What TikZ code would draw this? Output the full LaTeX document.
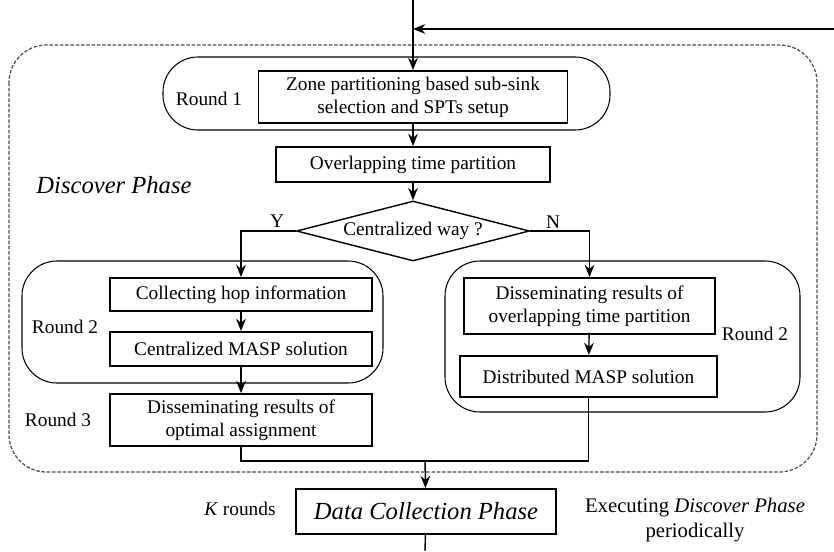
\documentclass[tikz,border=0pt]{standalone}
\usepackage{fontspec}
\setmainfont{Liberation Serif}
\usetikzlibrary{shapes.geometric}
\usetikzlibrary{positioning, calc, arrows.meta}

\begin{document}
\begin{tikzpicture}[x=0.02cm, y=-0.02cm, line width=0.8pt,
    every node/.style={font=\fontsize{11}{13}\selectfont},
    stepbox/.style={draw, line width=1pt, align=center, inner sep=0pt},
    roundbox/.style={draw, line width=0.6pt, rounded corners=0.7cm},
    arrow/.style={-{Stealth[length=7pt, width=5.5pt]}}]
                \useasboundingbox (0,0) rectangle (834,551);

                % phase frame and round groups
                \draw[black!70, line width=0.7pt, dash pattern=on 2pt off 1pt, rounded corners=0.75cm] (9,45) rectangle (817,472);
                \draw[roundbox] (163,57) rectangle (610,130);
                \draw[roundbox] (22,261) rectangle (383,383);
                \draw[roundbox] (445,261) rectangle (800,412);

                \node [stepbox, minimum width=6.18cm, minimum height=1.04cm] (zone) at (413,97) {Zone partitioning based sub-sink\\selection and SPTs setup};
                \node [stepbox, minimum width=5.48cm, minimum height=0.7cm] (overlap) at (413,164.5) {Overlapping time partition};
                \node [draw, diamond, aspect=3.9, inner sep=0pt, minimum width=4.66cm, minimum height=1.2cm] (way) at (413,231) {Centralized way ?};
                \node [stepbox, minimum width=5.24cm, minimum height=0.66cm] (hop) at (241,294.5) {Collecting hop information};
                \node [stepbox, minimum width=5.24cm, minimum height=0.68cm] (central) at (241,349) {Centralized MASP solution};
                \node [stepbox, minimum width=5.24cm, minimum height=1.04cm] (optimal) at (241,420) {Disseminating results of\\optimal assignment};
                \node [stepbox, minimum width=5.02cm, minimum height=1.12cm] (dissem) at (589.5,306) {Disseminating results of\\overlapping time partition};
                \node [stepbox, minimum width=5.14cm, minimum height=0.82cm] (distrib) at (588.5,376.5) {Distributed MASP solution};
                \node [stepbox, minimum width=5.2cm, minimum height=0.9cm, font=\fontsize{14}{16}\selectfont\itshape] (data) at (426,511.5) {Data Collection Phase};

                % side labels
                \node (r1) at (209,99) {Round 1};
                \node (r2a) at (65,327) {Round 2};
                \node (r2b) at (755,334) {Round 2};
                \node (r3) at (58,420) {Round 3};
                \node (yes) at (277,221) {Y};
                \node (no) at (553,222) {N};
                \node [font=\fontsize{14}{16}\selectfont\itshape] (phase) at (114,185) {Discover Phase};
                \node (krounds) at (240,509) {\textit{K} rounds};
                \node [align=center, font=\fontsize{11.8}{14}\selectfont] (periodic) at (695,520) {Executing \textit{Discover Phase}\\periodically};

                \coordinate (entry) at (413,0);
                \coordinate (loop) at (834,29);
                \coordinate (join) at (425,461);
                \coordinate (exit) at (425,551);

                \draw[arrow] (entry) -- (zone.north);
                \draw[arrow] (loop) -- (loop -| entry);
                \draw[arrow] (zone) -- (overlap);
                \draw[arrow] (overlap) -- (way);
                \draw[arrow] (way.west) -| (hop.north);
                \draw[arrow] (way.east) -| (dissem.north);
                \draw[arrow] (hop) -- (central);
                \draw[arrow] (central) -- (optimal);
                \draw[arrow] (dissem) -- (distrib);
                \draw (optimal.south) |- (join);
                \draw (distrib.south) |- (join);
                \draw[arrow] (join) -- (data);
                \draw (data) -- (exit);
\end{tikzpicture}
\end{document}
